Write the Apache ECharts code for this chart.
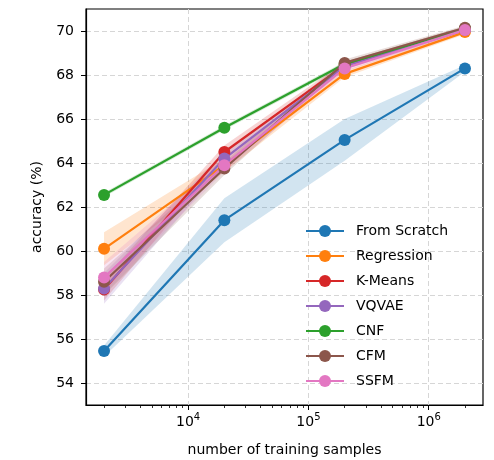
<!DOCTYPE html>
<html>
<head>
<meta charset="utf-8">
<script src="https://cdn.jsdelivr.net/npm/echarts@6/dist/echarts.min.js"></script>
<style>
  html, body { margin: 0; padding: 0; background: #fff; }
  #chart { width: 494px; height: 460px; }
</style>
</head>
<body>
<div id="chart"></div>
<script>
// training-set sizes (x) and mean accuracy / spread per method
const samples = [2000, 20000, 200000, 2000000];
const methods = ['From Scratch', 'Regression', 'K-Means', 'VQVAE', 'CNF', 'CFM', 'SSFM'];
const colors = ['#1f77b4', '#ff7f0e', '#d62728', '#9467bd', '#2ca02c', '#8c564b', '#e377c2'];

const fromScratch = [55.45, 61.4, 65.05, 68.3];
const regression  = [60.1, 63.9, 68.05, 69.95];
const kMeans      = [58.25, 64.5, 68.45, 70.1];
const vqvae       = [58.3, 64.2, 68.4, 70.05];
const cnf         = [62.55, 65.6, 68.5, 70.1];
const cfm         = [58.6, 63.75, 68.55, 70.15];
const ssfm        = [58.8, 63.9, 68.3, 70.05];

const fromScratchStd = [0.25, 1.0, 0.95, 0.15];
const regressionStd  = [0.75, 0.3, 0.15, 0.1];
const kMeansStd      = [0.5, 0.3, 0.15, 0.1];
const vqvaeStd       = [0.7, 0.3, 0.15, 0.1];
const cnfStd         = [0.1, 0.1, 0.1, 0.1];
const cfmStd         = [0.6, 0.3, 0.15, 0.1];
const ssfmStd        = [0.7, 0.3, 0.15, 0.1];

const yTicks = [54, 56, 58, 60, 62, 64, 66, 68, 70];
const xMajor = [1e4, 1e5, 1e6];
const xMinor = [2e3, 3e3, 4e3, 5e3, 6e3, 7e3, 8e3, 9e3,
                2e4, 3e4, 4e4, 5e4, 6e4, 7e4, 8e4, 9e4,
                2e5, 3e5, 4e5, 5e5, 6e5, 7e5, 8e5, 9e5, 2e6];

const means = [fromScratch, regression, kMeans, vqvae, cnf, cfm, ssfm];
const spreads = [fromScratchStd, regressionStd, kMeansStd, vqvaeStd, cnfStd, cfmStd, ssfmStd];

const FONT = 'DejaVu Sans';
const series = [];

// shaded band (mean ± spread) drawn as one polygon through the axis scales
function bandSeries(i) {
  const m = means[i], s = spreads[i];
  return {
    type: 'custom', name: 'band-' + i, silent: true, z: 1,
    data: samples.map((x, k) => [x, m[k] - s[k], m[k] + s[k]]),
    encode: { x: 0, y: [1, 2] },
    renderItem: function (params, api) {
      if (params.dataIndexInside !== 0) return null;
      const n = params.dataInsideLength;
      const upper = [], lower = [];
      for (let k = 0; k < n; k++) {
        const x = api.value(0, k);
        lower.push(api.coord([x, api.value(1, k)]));
        upper.push(api.coord([x, api.value(2, k)]));
      }
      return {
        type: 'polygon',
        shape: { points: lower.concat(upper.reverse()) },
        style: { fill: colors[i], opacity: 0.2 }
      };
    }
  };
}

means.forEach((m, i) => series.push(bandSeries(i)));

// mean curves with markers
means.forEach((m, i) => {
  series.push({
    type: 'line', name: methods[i],
    data: samples.map((x, k) => [x, m[k]]),
    symbol: 'circle', symbolSize: 12, z: 3,
    color: colors[i],
    lineStyle: { width: 2.2, color: colors[i] },
    itemStyle: { color: colors[i] }
  });
});

const chart = echarts.init(document.getElementById('chart'), null, { renderer: 'canvas' });
chart.setOption({
  animation: false,
  backgroundColor: '#fff',
  textStyle: { fontFamily: FONT },
  grid: {
    left: 86, right: 11, top: 9, bottom: 55, outerBoundsMode: 'none',
    show: true, borderColor: '#000', borderWidth: 1.2, backgroundColor: 'transparent'
  },
  legend: {
    data: methods,
    orient: 'vertical',
    left: 300, top: 219,
    itemWidth: 38, itemHeight: 15, itemGap: 11,
    textStyle: { fontFamily: FONT, fontSize: 14, color: '#000', padding: [0, 0, 0, 7] }
  },
  xAxis: [{
    type: 'log', logBase: 10, min: 1416, max: 2.825e6,
    name: 'number of training samples', nameLocation: 'middle', nameGap: 38,
    nameTextStyle: { fontFamily: FONT, fontSize: 14, color: '#000' },
    axisLine: { lineStyle: { color: '#000', width: 1.2 } },
    axisTick: { show: true, length: 5, customValues: xMajor, lineStyle: { color: '#000', width: 1 } },
    axisLabel: {
      customValues: xMajor, margin: 8, color: '#000',
      formatter: v => '{b|10}{s|' + Math.round(Math.log10(v)) + '}',
      rich: {
        b: { fontFamily: FONT, fontSize: 14, color: '#000', lineHeight: 18 },
        s: { fontFamily: FONT, fontSize: 10, color: '#000', lineHeight: 18, padding: [0, 0, 10, 0] }
      }
    },
    splitLine: { show: true, lineStyle: { color: '#d6d6d6', type: [5, 3], width: 1 } }
  }, {
    type: 'log', logBase: 10, min: 1416, max: 2.825e6, position: 'bottom',
    axisLine: { show: false },
    axisTick: { show: true, length: 3, customValues: xMinor, lineStyle: { color: '#000', width: 0.8 } },
    axisLabel: { show: false },
    splitLine: { show: false }
  }],
  yAxis: {
    type: 'value', min: 53, max: 71,
    name: 'accuracy (%)', nameLocation: 'middle', nameGap: 42,
    nameTextStyle: { fontFamily: FONT, fontSize: 14, color: '#000' },
    axisLine: { show: true, lineStyle: { color: '#000', width: 1.2 } },
    axisTick: { show: true, length: 5, customValues: yTicks, lineStyle: { color: '#000', width: 1 } },
    axisLabel: { customValues: yTicks, margin: 12, fontFamily: FONT, fontSize: 14, color: '#000' },
    splitLine: { show: true, lineStyle: { color: '#d6d6d6', type: [5, 3], width: 1 } }
  },
  series: series
});
</script>
</body>
</html>
